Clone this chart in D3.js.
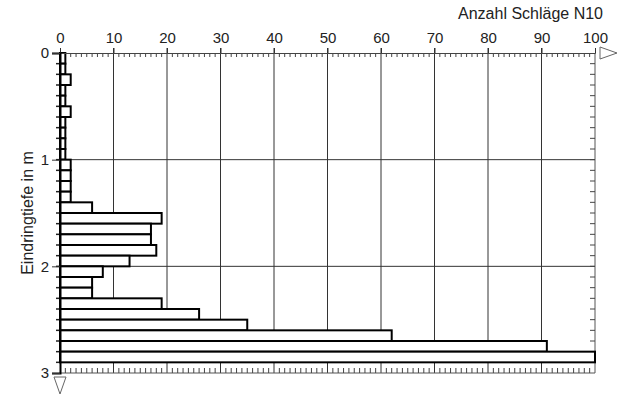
<!DOCTYPE html>
<html lang="de">
<head>
<meta charset="UTF-8">
<title>Rammsondierung N10</title>
<script src="https://cdn.jsdelivr.net/npm/d3@7/dist/d3.min.js"></script>
<style>
  body { margin: 0; background: #fff; }
  svg text { font-family: "Liberation Sans", Arial, sans-serif; fill: #222; }
</style>
</head>
<body>
<svg id="chart" width="623" height="396"></svg>
<script>
// Tiefenintervalle (Oberkante, m) und Schlagzahlen N10
const depthTop = [0.0, 0.1, 0.2, 0.3, 0.4, 0.5, 0.6, 0.7, 0.8, 0.9,
                  1.0, 1.1, 1.2, 1.3, 1.4, 1.5, 1.6, 1.7, 1.8, 1.9,
                  2.0, 2.1, 2.2, 2.3, 2.4, 2.5, 2.6, 2.7, 2.8];
const blows = [1, 1, 2, 1, 1, 2, 1, 1, 1, 1,
               2, 2, 2, 2, 6, 19, 17, 17, 18, 13,
               8, 6, 6, 19, 26, 35, 62, 91, 100];
const step = 0.1;
const xTicks = [0, 10, 20, 30, 40, 50, 60, 70, 80, 90, 100];
const yTicks = [0, 1, 2, 3];
const xLabel = 'Anzahl Schläge N10';
const yLabel = 'Eindringtiefe in m';

const svg = d3.select('#chart');
const x = d3.scaleLinear().domain([0, 100]).range([60, 595]);
const y = d3.scaleLinear().domain([0, 3]).range([53, 373]);

// Gitter
svg.append('g').selectAll('line')
  .data(xTicks.slice(1, -1))
  .enter().append('line')
  .attr('x1', d => x(d)).attr('x2', d => x(d))
  .attr('y1', y(0) - 5).attr('y2', y(3))
  .attr('stroke', '#333').attr('stroke-width', 1);

svg.append('g').selectAll('line')
  .data(yTicks.slice(1, -1))
  .enter().append('line')
  .attr('x1', x(0)).attr('x2', x(100))
  .attr('y1', d => y(d)).attr('y2', d => y(d))
  .attr('stroke', '#333').attr('stroke-width', 1);

// Rahmen rechts/unten
svg.append('line')
  .attr('x1', x(100)).attr('x2', x(100)).attr('y1', y(0)).attr('y2', y(3))
  .attr('stroke', '#555');
svg.append('line')
  .attr('x1', x(0)).attr('x2', x(100)).attr('y1', y(3)).attr('y2', y(3))
  .attr('stroke', '#555');

// kleine Striche
const minorX = d3.range(1, 100).filter(v => v % 10 !== 0);
const minorY = d3.range(1, 30).map(v => v / 10);

svg.append('g').selectAll('line').data(minorX).enter().append('line')
  .attr('x1', d => x(d)).attr('x2', d => x(d))
  .attr('y1', y(0)).attr('y2', y(0) + 4)
  .attr('stroke', '#444');
svg.append('g').selectAll('line').data(minorX).enter().append('line')
  .attr('x1', d => x(d)).attr('x2', d => x(d))
  .attr('y1', y(3)).attr('y2', y(3) - 5)
  .attr('stroke', '#444');
svg.append('g').selectAll('line').data(minorY).enter().append('line')
  .attr('x1', x(100)).attr('x2', x(100) - 5)
  .attr('y1', d => y(d)).attr('y2', d => y(d))
  .attr('stroke', '#444');
svg.append('g').selectAll('line').data(minorY).enter().append('line')
  .attr('x1', x(0)).attr('x2', x(0) - 4)
  .attr('y1', d => y(d)).attr('y2', d => y(d))
  .attr('stroke', '#222').attr('stroke-width', 1.5);

// Balken
svg.append('g').selectAll('rect')
  .data(depthTop)
  .enter().append('rect')
  .attr('x', x(0))
  .attr('y', d => y(d))
  .attr('width', (d, i) => x(blows[i]) - x(0))
  .attr('height', d => y(d + step) - y(d))
  .attr('fill', '#fff')
  .attr('stroke', '#000')
  .attr('stroke-width', 2);

// obere Achse
const topAxis = svg.append('g')
  .attr('transform', `translate(0,${y(0)})`)
  .call(d3.axisTop(x).tickValues(xTicks).tickSize(5).tickPadding(5).tickFormat(d3.format('d')));
topAxis.select('.domain').attr('stroke', '#444');
topAxis.selectAll('line').attr('stroke', '#333');
topAxis.selectAll('text').style('font-size', '15px').attr('fill', '#222');

// linke Achse
const leftAxis = svg.append('g')
  .attr('transform', `translate(${x(0)},0)`)
  .call(d3.axisLeft(y).tickValues(yTicks).tickSize(8).tickPadding(3).tickFormat(d3.format('d')));
leftAxis.select('.domain').attr('stroke', '#000').attr('stroke-width', 2);
leftAxis.selectAll('line').attr('stroke', '#333');
leftAxis.selectAll('text').style('font-size', '15px').attr('fill', '#222');

// Pfeile
svg.append('path')
  .attr('d', `M${x(100) + 5},${y(0) - 6} L${x(100) + 22},${y(0)} L${x(100) + 5},${y(0) + 6} Z`)
  .attr('fill', '#fff').attr('stroke', '#666');
svg.append('path')
  .attr('d', `M${x(0) - 6},${y(3) + 4} L${x(0)},${y(3) + 21} L${x(0) + 6},${y(3) + 4} Z`)
  .attr('fill', '#fff').attr('stroke', '#666');

// Beschriftungen
svg.append('text')
  .attr('x', 603).attr('y', 19)
  .attr('text-anchor', 'end')
  .style('font-size', '16px')
  .text(xLabel);

svg.append('text')
  .attr('transform', `translate(33,${(y(0) + y(3)) / 2}) rotate(-90)`)
  .attr('text-anchor', 'middle')
  .style('font-size', '16px')
  .text(yLabel);
</script>
</body>
</html>
